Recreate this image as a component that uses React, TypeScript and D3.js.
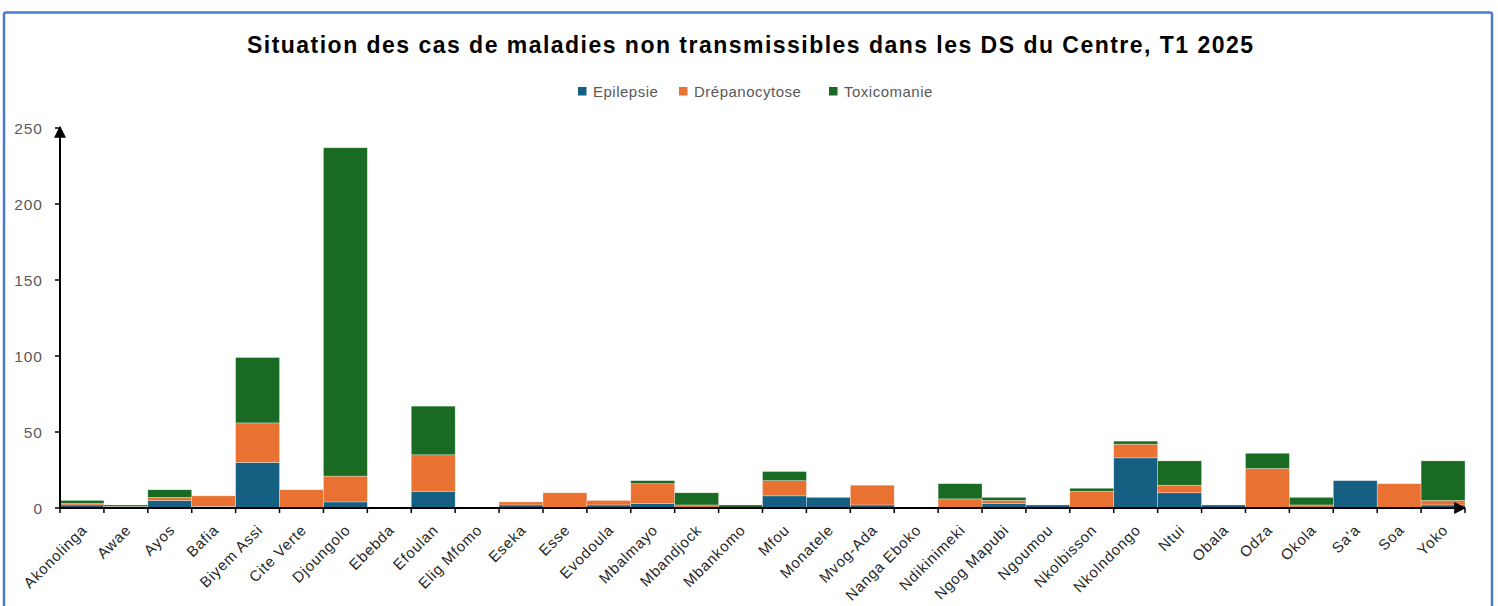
import React, { useEffect, useRef } from "react";
import * as d3 from "d3";

const districts = [
  "Akonolinga", "Awae", "Ayos", "Bafia", "Biyem Assi", "Cite Verte", "Djoungolo", "Ebebda",
  "Efoulan", "Elig Mfomo", "Eseka", "Esse", "Evodoula", "Mbalmayo", "Mbandjock", "Mbankomo",
  "Mfou", "Monatele", "Mvog-Ada", "Nanga Eboko", "Ndikinimeki", "Ngog Mapubi", "Ngoumou",
  "Nkolbisson", "Nkolndongo", "Ntui", "Obala", "Odza", "Okola", "Sa'a", "Soa", "Yoko",
];

const epilepsie = [2, 0, 5, 1, 30, 0, 4, 0, 11, 0, 2, 0, 2, 3, 0, 0, 8, 7, 2, 0, 0, 3, 2, 0, 33, 10, 2, 0, 0, 18, 0, 2];
const drepanocytose = [1, 1, 2, 7, 26, 12, 17, 0, 24, 0, 2, 10, 3, 13, 2, 0, 10, 0, 13, 0, 6, 2, 0, 11, 9, 5, 0, 26, 2, 0, 16, 3];
const toxicomanie = [2, 1, 5, 0, 43, 0, 216, 0, 32, 0, 0, 0, 0, 2, 8, 2, 6, 0, 0, 0, 10, 2, 0, 2, 2, 16, 0, 10, 5, 0, 0, 26];

const seriesNames = ["Epilepsie", "Drépanocytose", "Toxicomanie"];
const colors = ["#156082", "#E97132", "#196B24"];
const yTicks = [0, 50, 100, 150, 200, 250];

const W = 1498;
const H = 606;
const FONT = "Liberation Sans, Arial, sans-serif";

const App = () => {
  const svgRef = useRef(null);

  useEffect(() => {
    const svg = d3.select(svgRef.current);
    svg.selectAll("*").remove();

    const margin = { top: 128, right: 33, bottom: 98, left: 60 };

    const x = d3
      .scaleBand()
      .domain(districts)
      .range([margin.left, W - margin.right])
      .padding(0);

    const y = d3
      .scaleLinear()
      .domain([0, 250])
      .range([H - margin.bottom, margin.top]);

    const rows = districts.map((d, i) => ({
      name: d,
      Epilepsie: epilepsie[i],
      Drépanocytose: drepanocytose[i],
      Toxicomanie: toxicomanie[i],
    }));

    const stacked = d3.stack().keys(seriesNames)(rows);

    // cadre
    svg
      .append("rect")
      .attr("x", 4)
      .attr("y", 12.5)
      .attr("width", 1488)
      .attr("height", 620)
      .attr("rx", 2)
      .attr("fill", "white")
      .attr("stroke", "#4a7bd2")
      .attr("stroke-width", 2.5);

    svg
      .append("text")
      .attr("x", 750)
      .attr("y", 53)
      .attr("text-anchor", "middle")
      .attr("font-family", FONT)
      .attr("font-weight", "bold")
      .attr("font-size", 23)
      .attr("textLength", 1006)
      .attr("lengthAdjust", "spacing")
      .attr("fill", "#000")
      .text("Situation des cas de maladies non transmissibles dans les DS du Centre, T1 2025");

    // legende
    const legendX = [578, 679, 829];
    const legend = svg.append("g").attr("font-family", FONT);
    seriesNames.forEach((s, i) => {
      legend
        .append("rect")
        .attr("x", legendX[i])
        .attr("y", 87)
        .attr("width", 8.5)
        .attr("height", 8.5)
        .attr("fill", colors[i]);
      legend
        .append("text")
        .attr("x", legendX[i] + 15)
        .attr("y", 96.5)
        .attr("font-size", 15)
        .attr("letter-spacing", 0.5)
        .attr("fill", "#595959")
        .text(s);
    });

    svg
      .append("g")
      .selectAll("g")
      .data(stacked)
      .join("g")
      .attr("fill", (d, i) => colors[i])
      .selectAll("rect")
      .data((d) => d)
      .join("rect")
      .attr("x", (d) => x(d.data.name))
      .attr("width", x.bandwidth())
      .attr("y", (d) => y(d[1]))
      .attr("height", (d) => y(d[0]) - y(d[1]))
      .attr("stroke", "#ffffff")
      .attr("stroke-opacity", 0.5)
      .attr("stroke-width", (d) => (d[1] - d[0] > 0 ? 0.6 : 0));

    const defs = svg.append("defs");
    defs
      .append("marker")
      .attr("id", "arrow")
      .attr("viewBox", "0 0 10 10")
      .attr("refX", 9)
      .attr("refY", 5)
      .attr("markerWidth", 6)
      .attr("markerHeight", 6)
      .attr("markerUnits", "strokeWidth")
      .attr("orient", "auto")
      .append("path")
      .attr("d", "M0,0L10,5L0,10Z")
      .attr("fill", "#000");

    // axe y
    const y0 = y(0);
    const yAxis = svg.append("g");
    yAxis
      .append("line")
      .attr("x1", margin.left)
      .attr("x2", margin.left)
      .attr("y1", y0)
      .attr("y2", y(250) - 1)
      .attr("stroke", "#000")
      .attr("stroke-width", 2)
      .attr("marker-end", "url(#arrow)");
    yTicks.forEach((t) => {
      yAxis
        .append("line")
        .attr("x1", margin.left - 5)
        .attr("x2", margin.left)
        .attr("y1", y(t))
        .attr("y2", y(t))
        .attr("stroke", "#000")
        .attr("stroke-width", 1.5);
      yAxis
        .append("text")
        .attr("x", 43)
        .attr("y", y(t) + 5.5)
        .attr("text-anchor", "end")
        .attr("font-family", FONT)
        .attr("font-size", 15.5)
        .attr("letter-spacing", 1)
        .attr("fill", "#595959")
        .text(t);
    });

    // axe x
    const xAxis = svg.append("g");
    const xEnd = W - margin.right;
    const bounds = districts.map((d) => x(d)).concat([xEnd]);
    bounds.forEach((b) => {
      xAxis
        .append("line")
        .attr("x1", b)
        .attr("x2", b)
        .attr("y1", y0)
        .attr("y2", y0 + 5)
        .attr("stroke", "#000")
        .attr("stroke-width", 1.5);
    });
    xAxis
      .append("line")
      .attr("x1", margin.left - 1)
      .attr("x2", xEnd)
      .attr("y1", y0)
      .attr("y2", y0)
      .attr("stroke", "#000")
      .attr("stroke-width", 2)
      .attr("marker-end", "url(#arrow)");

    xAxis
      .selectAll("text")
      .data(districts)
      .join("text")
      .attr("transform", (d) => `translate(${x(d) + x.bandwidth() / 2 + 6},${y0 + 23}) rotate(-45)`)
      .attr("text-anchor", "end")
      .attr("font-family", FONT)
      .attr("font-size", 15)
      .attr("letter-spacing", 0.8)
      .attr("fill", "#262626")
      .text((d) => d);
  }, []);

  return (
    <svg
      ref={svgRef}
      width={W}
      height={H}
      style={{ position: "absolute", left: 0, top: 0, background: "white" }}
    />
  );
};

export default App;
